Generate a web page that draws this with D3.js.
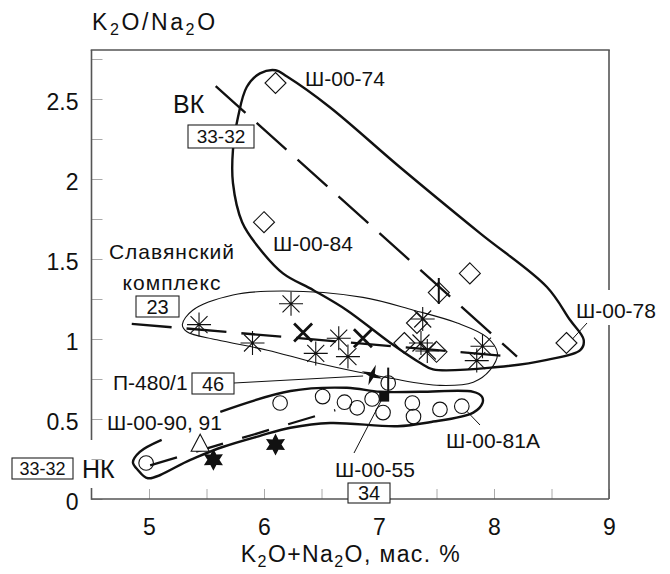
<!DOCTYPE html>
<html>
<head>
<meta charset="utf-8">
<script src="https://cdn.jsdelivr.net/npm/d3@7"></script>
<style>
  body { margin: 0; background: #fff; }
  svg { display: block; }
  text { font-family: "Liberation Sans", Arial, sans-serif; fill: #111; }
</style>
</head>
<body>
<div id="chart"></div>
<script>
// ---- data (K2O+Na2O, K2O/Na2O) ----
const vkDiamonds = [[6.10, 2.60], [6.00, 1.73], [7.79, 1.41], [7.52, 1.29], [7.33, 1.10], [7.22, 0.975], [7.50, 0.92], [8.63, 0.975]];
const slavAsterisks = [[5.435, 1.09], [5.90, 0.975], [6.235, 1.22], [6.45, 0.91], [6.65, 1.005], [6.73, 0.89],
  [7.38, 1.125], [7.365, 0.975], [7.42, 0.925], [7.90, 0.955], [7.85, 0.865]];
const nkCircles = [[4.975, 0.225], [6.14, 0.60], [6.51, 0.64], [6.70, 0.605], [6.81, 0.57], [6.94, 0.625], [7.035, 0.54],
  [7.29, 0.60], [7.30, 0.515], [7.53, 0.56], [7.72, 0.58], [7.08, 0.725]];
const nkTriangle = [[5.445, 0.345]];
const nkStars = [[5.56, 0.245], [6.10, 0.34]];
const sampleSquare = [[7.045, 0.64]];   // Ш-00-55
const sampleP480 = [[6.94, 0.775]];     // П-480/1
const meanCrosses = [[6.34, 1.04], [6.86, 1.005]];
const verticalMarks = [[7.52, 1.30], [7.08, 0.74]];

// trend lines
const vkTrend = [[5.58, 2.58], [8.20, 0.89]];
const slavTrend = [[4.85, 1.095], [8.08, 0.895]];
const nkTrend = [[5.01, 0.21], [6.62, 0.555]];

// field outlines
const vkField = [[6.10, 2.68], [6.20, 2.64], [6.57, 2.45], [7.18, 2.075], [7.88, 1.66], [8.46, 1.325], [8.66, 1.12],
  [8.78, 0.995], [8.75, 0.93], [8.46, 0.87], [8.03, 0.825], [7.47, 0.81], [7.36, 0.85], [7.10, 0.975], [6.72, 1.18],
  [6.43, 1.305], [6.165, 1.41], [5.95, 1.575], [5.81, 1.73], [5.73, 1.975], [5.73, 2.18], [5.775, 2.39], [5.85, 2.575], [5.965, 2.66]];
const slavField = [[5.29, 1.09], [5.38, 1.18], [5.73, 1.275], [6.165, 1.30], [6.86, 1.26], [7.30, 1.18], [7.68, 1.10],
  [7.94, 1.01], [8.03, 0.91], [7.965, 0.805], [7.82, 0.73], [7.53, 0.71], [7.10, 0.755], [6.46, 0.85], [6.03, 0.93],
  [5.59, 0.995], [5.33, 1.045]];
const nkField = [[5.11, 0.37], [4.92, 0.295], [4.86, 0.23], [4.905, 0.18], [4.99, 0.13], [5.36, 0.245], [5.64, 0.325],
  [5.965, 0.395], [6.23, 0.445], [6.575, 0.475], [7.16, 0.455], [7.44, 0.48], [7.82, 0.54], [7.90, 0.60], [7.895, 0.64],
  [7.82, 0.67], [7.36, 0.67], [7.01, 0.67], [6.72, 0.695], [6.23, 0.675], [5.62, 0.545]];

// axes
const xTicks = [5, 5.5, 6, 6.5, 7, 7.5, 8, 8.5, 9];
const xTickLabels = [5, 6, 7, 8, 9];
const yTicks = [0, 0.25, 0.5, 0.75, 1, 1.25, 1.5, 1.75, 2, 2.25, 2.5, 2.75];
const yTickLabels = [0, 0.5, 1, 1.5, 2, 2.5];

// ---- chart ----
const svg = d3.select('#chart').append('svg').attr('width', 670).attr('height', 574);

const x = d3.scaleLinear().domain([4.5, 9]).range([91.5, 609]);
const y = d3.scaleLinear().domain([0, 2.8]).range([499, 51]);

const axisColor = '#555';
const tickColor = '#aaa';

// y axis: ticks point inwards
svg.append('g')
  .attr('transform', 'translate(' + x(4.5) + ',0)')
  .call(d3.axisLeft(y).tickValues(yTicks).tickSizeInner(-11).tickSizeOuter(0).tickPadding(13)
    .tickFormat(d => yTickLabels.includes(d) ? d : ''))
  .call(g => g.select('.domain').remove())
  .call(g => g.selectAll('line').attr('stroke', tickColor))
  .call(g => g.selectAll('text').attr('font-family', '"DejaVu Sans", sans-serif').attr('font-size', 23)
    .attr('fill', '#111').attr('dy', '0.46em'));

// x axis
svg.append('g')
  .attr('transform', 'translate(0,' + y(0) + ')')
  .call(d3.axisBottom(x).tickValues(xTicks).tickSizeInner(-10).tickSizeOuter(0).tickPadding(20)
    .tickFormat(d => xTickLabels.includes(d) ? d : ''))
  .call(g => g.select('.domain').remove())
  .call(g => g.selectAll('line').attr('stroke', tickColor))
  .call(g => g.selectAll('text').attr('font-family', '"DejaVu Sans", sans-serif').attr('font-size', 23)
    .attr('fill', '#111'));

// frame (left axis broken near НК, right border broken near label)
const frame = svg.append('g').attr('stroke', axisColor).attr('stroke-width', 1.6).attr('fill', 'none');
frame.append('line').attr('x1', x(4.5)).attr('x2', x(4.5)).attr('y1', 50).attr('y2', 440);
frame.append('line').attr('x1', x(4.5)).attr('x2', x(4.5)).attr('y1', 488).attr('y2', y(0) + 0.8);
frame.append('line').attr('x1', x(4.5)).attr('x2', x(9)).attr('y1', y(0)).attr('y2', y(0));
frame.append('line').attr('x1', x(4.5) - 0.8).attr('x2', x(9) + 0.8).attr('y1', 50).attr('y2', 50);
frame.append('line').attr('x1', x(9)).attr('x2', x(9)).attr('y1', 50).attr('y2', 290);
frame.append('line').attr('x1', x(9)).attr('x2', x(9)).attr('y1', 325).attr('y2', y(0));

// fields
const closedLine = d3.line().x(d => x(d[0])).y(d => y(d[1])).curve(d3.curveCatmullRomClosed.alpha(0.5));
const openLine = d3.line().x(d => x(d[0])).y(d => y(d[1])).curve(d3.curveCatmullRom.alpha(0.5));
const straight = d3.line().x(d => x(d[0])).y(d => y(d[1]));

svg.append('path').attr('d', closedLine(vkField)).attr('fill', 'none').attr('stroke', '#111').attr('stroke-width', 2.4);
svg.append('path').attr('d', closedLine(slavField)).attr('fill', 'none').attr('stroke', '#111').attr('stroke-width', 1.1);
svg.append('path').attr('d', openLine(nkField)).attr('fill', 'none').attr('stroke', '#111').attr('stroke-width', 2.4);

// trend lines
svg.append('path').attr('d', straight(vkTrend)).attr('stroke', '#111').attr('stroke-width', 2.3).attr('stroke-dasharray', '40,15');
svg.append('path').attr('d', straight(slavTrend)).attr('stroke', '#111').attr('stroke-width', 2.3).attr('stroke-dasharray', '40,15');
svg.append('path').attr('d', straight(nkTrend)).attr('stroke', '#111').attr('stroke-width', 2.3).attr('stroke-dasharray', '28,20');

// markers
svg.append('g').selectAll('path').data(vkDiamonds).enter().append('path')
  .attr('transform', d => 'translate(' + x(d[0]) + ',' + y(d[1]) + ')')
  .attr('d', 'M0,-10.5L10.5,0L0,10.5L-10.5,0Z')
  .attr('fill', 'none').attr('stroke', '#111').attr('stroke-width', 1.1);

svg.append('g').selectAll('path').data(slavAsterisks).enter().append('path')
  .attr('transform', d => 'translate(' + x(d[0]) + ',' + y(d[1]) + ')')
  .attr('d', 'M-12,0H12M0,-12V12M-8.5,-8.5L8.5,8.5M-8.5,8.5L8.5,-8.5')
  .attr('fill', 'none').attr('stroke', '#111').attr('stroke-width', 1.1);

svg.append('g').selectAll('path').data(meanCrosses).enter().append('path')
  .attr('transform', d => 'translate(' + x(d[0]) + ',' + y(d[1]) + ')')
  .attr('d', 'M-9,-9L9,9M-9,9L9,-9')
  .attr('stroke', '#111').attr('stroke-width', 2.8);

svg.append('g').selectAll('circle').data(nkCircles).enter().append('circle')
  .attr('cx', d => x(d[0])).attr('cy', d => y(d[1])).attr('r', 7.3)
  .attr('fill', 'none').attr('stroke', '#111').attr('stroke-width', 1.1);

svg.append('g').selectAll('path').data(verticalMarks).enter().append('path')
  .attr('transform', d => 'translate(' + x(d[0]) + ',' + y(d[1]) + ')')
  .attr('d', 'M0,-13V13')
  .attr('stroke', '#111').attr('stroke-width', 2);

svg.append('g').selectAll('path').data(nkTriangle).enter().append('path')
  .attr('transform', d => 'translate(' + x(d[0]) + ',' + y(d[1]) + ')')
  .attr('d', 'M0,-9.5L9,7.5L-9,7.5Z')
  .attr('fill', '#fff').attr('stroke', '#111').attr('stroke-width', 1.1);

function starPath(n, r1, r2, rot) {
  const pts = [];
  for (let i = 0; i < n * 2; i++) {
    const a = rot + Math.PI * i / n - Math.PI / 2;
    const r = i % 2 ? r2 : r1;
    pts.push([r * Math.cos(a), r * Math.sin(a)]);
  }
  return 'M' + pts.map(p => p[0].toFixed(2) + ',' + p[1].toFixed(2)).join('L') + 'Z';
}

svg.append('g').selectAll('path').data(nkStars).enter().append('path')
  .attr('transform', d => 'translate(' + x(d[0]) + ',' + y(d[1]) + ')')
  .attr('d', starPath(6, 11, 6, 0))
  .attr('fill', '#111');

svg.append('g').selectAll('rect').data(sampleSquare).enter().append('rect')
  .attr('x', d => x(d[0]) - 5).attr('y', d => y(d[1]) - 5).attr('width', 10).attr('height', 10)
  .attr('fill', '#111');

svg.append('g').selectAll('path').data(sampleP480).enter().append('path')
  .attr('transform', d => 'translate(' + x(d[0]) + ',' + y(d[1]) + ')')
  .attr('d', starPath(4, 11, 3, 0.35))
  .attr('fill', '#111');

// ---- annotations ----
const leaders = svg.append('g').attr('stroke', '#111').attr('stroke-width', 1).attr('fill', 'none');
leaders.append('line').attr('x1', 234).attr('y1', 383).attr('x2', x(sampleP480[0][0]) - 9).attr('y2', y(sampleP480[0][1]) + 1);
leaders.append('line').attr('x1', 354).attr('y1', 453).attr('x2', x(sampleSquare[0][0]) - 3).attr('y2', y(sampleSquare[0][1]) + 4);
leaders.append('line').attr('x1', 480).attr('y1', 425).attr('x2', x(7.72) + 5).attr('y2', y(0.58) + 5);
leaders.append('line').attr('x1', 587).attr('y1', 323).attr('x2', x(8.63) + 6).attr('y2', y(0.975) - 4);

function label(txt, px, py, size, anchor) {
  return svg.append('text').attr('x', px).attr('y', py).attr('font-size', size)
    .attr('text-anchor', anchor || 'start').text(txt);
}

function boxed(txt, bx, by, bw, bh, size) {
  svg.append('rect').attr('x', bx).attr('y', by).attr('width', bw).attr('height', bh)
    .attr('fill', '#fff').attr('stroke', '#222').attr('stroke-width', 1.1);
  svg.append('text').attr('x', bx + bw / 2).attr('y', by + bh / 2).attr('dy', '0.36em')
    .attr('font-size', size).attr('text-anchor', 'middle').text(txt);
}

label('ВК', 173, 113, 25);
boxed('33-32', 188, 125, 66, 23, 19);
label('Ш-00-74', 305, 86, 21);
label('Ш-00-84', 273, 251, 21);
label('Ш-00-78', 576, 318, 21);
label('Славянский', 172, 259, 21, 'middle').attr('letter-spacing', 1);
label('комплекс', 172, 290, 21, 'middle').attr('letter-spacing', 1);
boxed('23', 136, 296, 43, 21, 20);
label('П-480/1', 113, 390, 21);
boxed('46', 192, 373, 42, 21, 20);
label('Ш-00-90, 91', 107, 430, 21);
boxed('33-32', 12, 458, 61, 21, 18);
label('НК', 82, 478, 25);
label('Ш-00-55', 335, 477, 21);
boxed('34', 348, 483, 42, 20, 20);
label('Ш-00-81А', 446, 448, 21);

// axis titles with subscripts
function chemTitle(parts, px, py, size, anchor, spacing) {
  const t = svg.append('text').attr('x', px).attr('y', py).attr('font-size', size)
    .attr('text-anchor', anchor).attr('letter-spacing', spacing)
    .attr('font-family', '"DejaVu Sans", sans-serif');
  let low = false;
  parts.forEach(p => {
    const sub = p[1];
    const ts = t.append('tspan').text(p[0]);
    if (sub && !low) { ts.attr('dy', 5).attr('font-size', size * 0.7); low = true; }
    else if (!sub && low) { ts.attr('dy', -5); low = false; }
  });
  return t;
}

chemTitle([['K', 0], ['2', 1], ['O/Na', 0], ['2', 1], ['O', 0]], 92, 30, 23, 'start', 2.6);
chemTitle([['K', 0], ['2', 1], ['O+Na', 0], ['2', 1], ['O, мас. %', 0]], 351, 562, 23, 'middle', 1.4);
</script>
</body>
</html>
